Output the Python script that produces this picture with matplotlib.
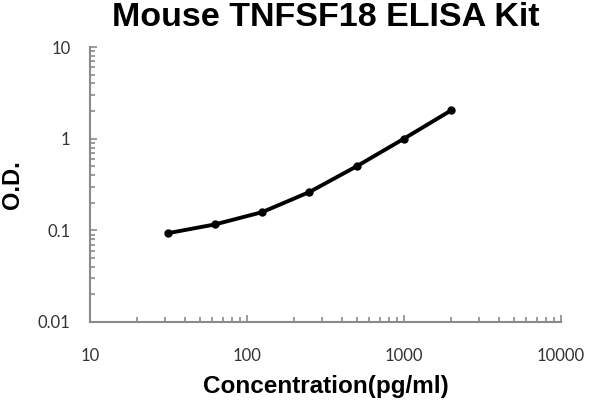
import matplotlib
matplotlib.use('Agg')
import matplotlib.pyplot as plt
from matplotlib.ticker import LogLocator, NullFormatter, FixedLocator, FixedFormatter

conc = [31.25, 62.5, 125, 250, 500, 1000, 2000]
od = [0.093, 0.116, 0.158, 0.262, 0.50, 1.0, 2.04]

x_ticks = [10, 100, 1000, 10000]
x_labels = ['10', '100', '1000', '10000']
y_ticks = [0.01, 0.1, 1, 10]
y_labels = ['0.01', '0.1', '1', '10']

fig = plt.figure(figsize=(6, 4), dpi=100)
ax = fig.add_axes([0.15, 0.195, 0.785, 0.6875])

ax.plot(conc, od, color='black', linewidth=2.8, marker='o', markersize=5,
        solid_capstyle='round', solid_joinstyle='round')

ax.set_xscale('log')
ax.set_yscale('log')
ax.set_xlim(10, 10000)
ax.set_ylim(0.01, 10)

for s in ['top', 'right']:
    ax.spines[s].set_visible(False)
for s in ['left', 'bottom']:
    ax.spines[s].set_color('#8a8a8a')
    ax.spines[s].set_linewidth(1.5)

ax.xaxis.set_major_locator(FixedLocator(x_ticks))
ax.xaxis.set_major_formatter(FixedFormatter(x_labels))
ax.yaxis.set_major_locator(FixedLocator(y_ticks))
ax.yaxis.set_major_formatter(FixedFormatter(y_labels))
ax.xaxis.set_minor_locator(LogLocator(base=10, subs=range(2, 10), numticks=20))
ax.yaxis.set_minor_locator(LogLocator(base=10, subs=range(2, 10), numticks=20))
ax.xaxis.set_minor_formatter(NullFormatter())
ax.yaxis.set_minor_formatter(NullFormatter())

ax.tick_params(which='both', direction='in', color='#8a8a8a', width=1.2)
ax.tick_params(which='major', length=5)
ax.tick_params(which='minor', length=3.5)
ax.tick_params(axis='x', which='major', pad=19, labelsize=12, labelcolor='#333333')
ax.tick_params(axis='y', which='major', pad=14, labelsize=12, labelcolor='#333333')
for lab in ax.get_xticklabels() + ax.get_yticklabels():
    lab.set_family('Lato')

ax.set_xlabel('Concentration(pg/ml)', fontsize=17.5, fontweight='bold',
              family='Liberation Sans', labelpad=8)
ax.set_ylabel('O.D.', fontsize=17, fontweight='bold', family='Liberation Sans')
ax.yaxis.set_label_coords(-0.14, 0.5)
fig.text(0.5425, 0.955, 'Mouse TNFSF18 ELISA Kit', ha='center', va='center',
         fontsize=24.5, fontweight='bold', family='Liberation Sans')

fig.savefig('out.png', dpi=100)
